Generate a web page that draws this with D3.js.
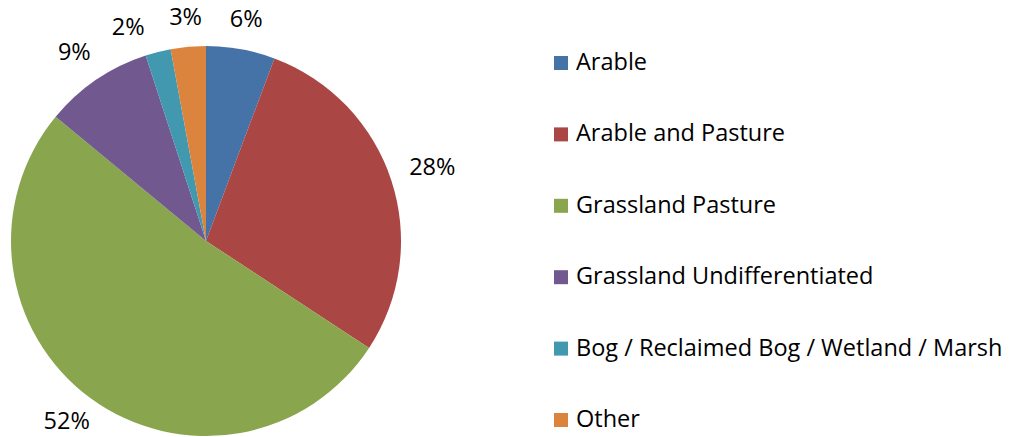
<!DOCTYPE html>
<html>
<head>
<meta charset="utf-8">
<script src="https://cdn.jsdelivr.net/npm/d3@7"></script>
<style>
  body { margin: 0; background: #fff; }
  text { font-family: "Open Sans", "Noto Sans", sans-serif; fill: #000; }
</style>
</head>
<body>
<script>
var width = 1011,
    height = 437;

// land use shares (%)
var categories = ["Arable", "Arable and Pasture", "Grassland Pasture",
                  "Grassland Undifferentiated", "Bog / Reclaimed Bog / Wetland / Marsh", "Other"];
var values = [5.7, 28.5, 51.7, 9.0, 2.1, 2.9];
var labels = ["6%", "28%", "52%", "9%", "2%", "3%"];
var colors = ["#4572A7", "#AA4643", "#89A54E", "#71588F", "#4198AF", "#DB843D"];

var cx = 206, cy = 241, r = 195;
var fontSize = "23.5px";

var svg = d3.select("body").append("svg")
    .attr("width", width)
    .attr("height", height);

var color = d3.scaleOrdinal().domain(categories).range(colors);

var pie = d3.pie().sort(null).value(function(d) { return d; });
var arcs = pie(values);

var arc = d3.arc().innerRadius(0).outerRadius(r);

var g = svg.append("g").attr("transform", "translate(" + cx + "," + cy + ")");

g.selectAll("path")
  .data(arcs)
  .enter().append("path")
    .attr("d", arc)
    .attr("fill", function(d, i) { return color(categories[i]); });

// labels sit just outside the pie, box pushed out along mid angle
var labelR = r + 18, hh = 10;
var lbl = g.selectAll(".lbl")
  .data(arcs)
  .enter().append("text")
    .attr("class", "lbl")
    .style("font-size", fontSize)
    .attr("text-anchor", "middle")
    .text(function(d, i) { return labels[i]; });

function place(a, w) {
  var s = Math.sin(a), c = -Math.cos(a);
  var off = labelR + (w / 2) * Math.abs(s) + hh * Math.abs(c);
  return [off * s, off * c];
}

var boxes = [];
lbl.each(function(d, i) {
  boxes[i] = { a: (d.startAngle + d.endAngle) / 2, w: this.getBBox().width };
  var p = place(boxes[i].a, boxes[i].w);
  boxes[i].x = p[0]; boxes[i].y = p[1];
});

// push crowded labels near the top apart (walk back from the last slice)
var gap = 24;
for (var i = boxes.length - 2; i >= 0; i--) {
  var b = boxes[i], n = boxes[i + 1];
  while (Math.abs(b.y - n.y) < 2 * hh + 4 &&
         b.x + b.w / 2 + gap > n.x - n.w / 2 && b.x < n.x) {
    b.a -= 0.01;
    var p = place(b.a, b.w);
    b.x = p[0]; b.y = p[1];
  }
}

lbl.each(function(d, i) {
  var y = Math.max(-cy + hh + 2, Math.min(height - cy - hh - 6, boxes[i].y));
  d3.select(this)
    .attr("x", boxes[i].x)
    .attr("y", y + 8);
});

// legend
var legend = svg.append("g").attr("transform", "translate(554,0)");
var step = 71.4;

var item = legend.selectAll(".item")
  .data(categories)
  .enter().append("g")
    .attr("class", "item")
    .attr("transform", function(d, i) { return "translate(0," + (69 + i * step) + ")"; });

item.append("rect")
    .attr("x", 0).attr("y", -13)
    .attr("width", 14).attr("height", 14)
    .attr("fill", function(d) { return color(d); });

item.append("text")
    .attr("x", 22)
    .attr("y", 1)
    .style("font-size", fontSize)
    .text(function(d) { return d; });
</script>
</body>
</html>
